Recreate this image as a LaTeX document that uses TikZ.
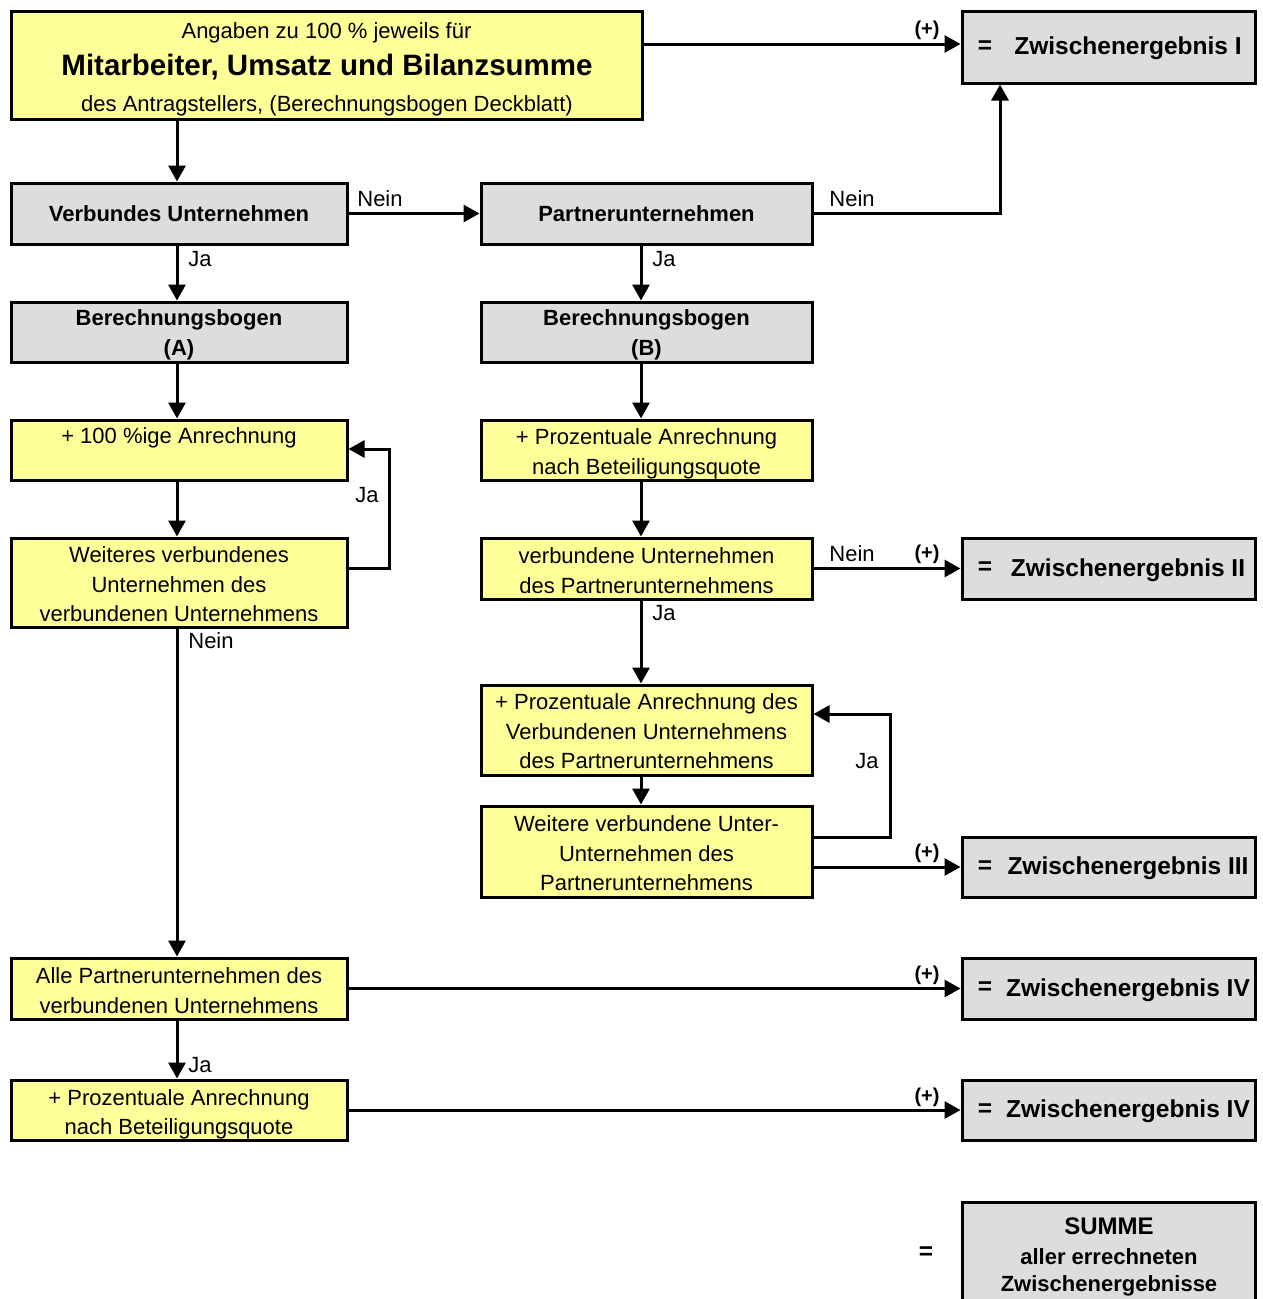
\documentclass[tikz,border=0pt]{standalone}
\usepackage{fontspec}
\setmainfont{Liberation Sans}
\usetikzlibrary{arrows.meta}
\definecolor{yel}{HTML}{FFFF99}
\definecolor{gry}{HTML}{DDDDDD}
\newcommand\fnorm{\fontsize{22}{29.5}\selectfont}
\newcommand\fbold{\fontsize{22}{29.5}\selectfont\bfseries}
\newcommand\fze{\fontsize{24.5}{29.5}\selectfont\bfseries}
\newcommand\sh[1]{\rule{0pt}{#1pt}}
\begin{document}
\begin{tikzpicture}[x=1pt,y=-1pt,
  ybox/.style={draw=black,line width=3pt,fill=yel,inner sep=0pt,align=center,font=\fnorm},
  gbox/.style={draw=black,line width=3pt,fill=gry,inner sep=0pt,align=center,font=\fbold},
  lw/.style={minimum width=336pt},
  rw/.style={minimum width=331pt},
  zw/.style={minimum width=293pt},
  arr/.style={line width=3pt,-{Triangle[length=16pt,width=17pt]}},
  lbl/.style={font=\fnorm,inner sep=0pt},
  plus/.style={font=\fontsize{20}{20}\selectfont\bfseries,inner sep=0pt},
  zet/.style={font=\fze,inner sep=0pt},
]
\useasboundingbox (0,0) rectangle (1262,1299);
\clip (0,0) rectangle (1262,1299);

% column coordinates
\coordinate (cL) at (177,0);
\coordinate (cR) at (641,0);

% top box
\node[ybox,minimum width=631pt,minimum height=108pt] (top) at (326.5,65) {};
\node[lbl,anchor=base] (top1) at (326.5,38) {Angaben zu 100 \% jeweils für};
\node[inner sep=0pt,anchor=base,font=\fontsize{29.5}{30}\selectfont\bfseries] (top2) at (327,75.5) {Mitarbeiter, Umsatz und Bilanzsumme};
\node[lbl,anchor=base] (top3) at (327,111) {des Antragstellers, (Berechnungsbogen Deckblatt)};

% left column
\node[gbox,lw,minimum height=61pt] (vu) at (179,213.5) {Verbundes Unternehmen};
\node[gbox,lw,minimum height=60pt] (ba) at (179,332) {\sh{22}Berechnungsbogen\\(A)};
\node[ybox,lw,minimum height=60pt] (a100) at (179,450) {+ 100 \%ige Anrechnung\\\mbox{}};
\node[ybox,lw,minimum height=89pt] (wv) at (179,582.5) {\sh{20}Weiteres verbundenes\\Unternehmen des\\verbundenen Unternehmens};
\node[ybox,lw,minimum height=61pt] (alle) at (179,988.5) {\sh{20}Alle Partnerunternehmen des\\verbundenen Unternehmens};
\node[ybox,lw,minimum height=60pt] (pn) at (179,1110) {\sh{25}+ Prozentuale Anrechnung\\nach Beteiligungsquote};

% right column
\node[gbox,rw,minimum height=61pt] (pu) at (646.5,213.5) {Partnerunternehmen};
\node[gbox,rw,minimum height=60pt] (bb) at (646.5,332) {\sh{22}Berechnungsbogen\\(B)};
\node[ybox,rw,minimum height=60pt] (pb) at (646.5,450) {\sh{24}+ Prozentuale Anrechnung\\nach Beteiligungsquote};
\node[ybox,rw,minimum height=61pt] (vp) at (646.5,568.5) {\sh{20}verbundene Unternehmen\\des Partnerunternehmens};
\node[ybox,rw,minimum height=90pt] (pd) at (646.5,730) {\sh{19}+ Prozentuale Anrechnung des\\Verbundenen Unternehmens\\des Partnerunternehmens};
\node[ybox,rw,minimum height=91pt] (wvu) at (646.5,851.5) {\sh{20}Weitere verbundene Unter-\\Unternehmen des\\Partnerunternehmens};

% result boxes
\node[gbox,zw,minimum height=72pt] (ze1) at (1108.5,47) {};
\node[zet] (ze1eq) at (985,47) {=};
\node[zet] (ze1t) at (1128,48.5) {Zwischenergebnis I};
\node[gbox,zw,minimum height=61pt] (ze2) at (1108.5,568.5) {};
\node[zet] (ze2eq) at (985,568.5) {=};
\node[zet] (ze2t) at (1128,570) {Zwischenergebnis II};
\node[gbox,zw,minimum height=60pt] (ze3) at (1108.5,867) {};
\node[zet] (ze3eq) at (985,867) {=};
\node[zet] (ze3t) at (1128,868.5) {Zwischenergebnis III};
\node[gbox,zw,minimum height=61pt] (ze4) at (1108.5,988.5) {};
\node[zet] (ze4eq) at (985,988.5) {=};
\node[zet] (ze4t) at (1128,990) {Zwischenergebnis IV};
\node[gbox,zw,minimum height=60pt] (ze5) at (1108.5,1110) {};
\node[zet] (ze5eq) at (985,1110) {=};
\node[zet] (ze5t) at (1128,1111.5) {Zwischenergebnis IV};

% sum box (bottom edge outside the picture)
\node[gbox,zw,minimum height=118pt] (summe) at (1108.5,1261) {};
\node[inner sep=0pt,align=center,font=\fbold] (summet) at (1109,1257)
  {{\fontsize{24}{29.5}\selectfont SUMME}\\aller errechneten\\[-2pt]Zwischenergebnisse};
\node[zet] (sumeq) at (926,1253) {=};

% connectors
\coordinate (h1) at (0,44);
\draw[arr] (top.east |- h1) -- (ze1.west |- h1);
\node[plus] (p1) at (927,30) {(+)};

\draw[arr] (top.south -| cL) -- (vu.north -| cL);
\draw[arr] (vu.east) -- (pu.west);
\node[lbl] (n1) at (380,199) {Nein};

\coordinate (k1) at (1000,213.5);
\draw[arr] (pu.east) -- (k1) -- (k1 |- ze1.south);
\node[lbl] (n2) at (852,199) {Nein};

\draw[arr] (vu.south -| cL) -- (ba.north -| cL);
\node[lbl] (j1) at (200,259) {Ja};
\draw[arr] (pu.south -| cR) -- (bb.north -| cR);
\node[lbl] (j2) at (664,259) {Ja};

\draw[arr] (ba.south -| cL) -- (a100.north -| cL);
\draw[arr] (bb.south -| cR) -- (pb.north -| cR);
\draw[arr] (a100.south -| cL) -- (wv.north -| cL);
\draw[arr] (pb.south -| cR) -- (vp.north -| cR);

\coordinate (l1a) at (389,568);
\coordinate (l1b) at (389,449);
\draw[arr] (wv.east |- l1a) -- (l1a) -- (l1b) -- (a100.east |- l1b);
\node[lbl] (j3) at (367,495) {Ja};

\draw[arr] (wv.south -| cL) -- (alle.north -| cL);
\node[lbl] (n3) at (211,641) {Nein};

\draw[arr] (vp.east) -- (ze2.west);
\node[lbl] (n4) at (852,554) {Nein};
\node[plus] (p2) at (927,554) {(+)};

\draw[arr] (vp.south -| cR) -- (pd.north -| cR);
\node[lbl] (j4) at (664,613) {Ja};
\draw[arr] (pd.south -| cR) -- (wvu.north -| cR);

\coordinate (l2a) at (890,837);
\coordinate (l2b) at (890,714);
\draw[arr] (wvu.east |- l2a) -- (l2a) -- (l2b) -- (pd.east |- l2b);
\node[lbl] (j5) at (867,761) {Ja};

\draw[arr] (wvu.east |- ze3.west) -- (ze3.west);
\node[plus] (p3) at (927,853) {(+)};

\draw[arr] (alle.east) -- (ze4.west);
\node[plus] (p4) at (927,975) {(+)};

\draw[arr] (alle.south -| cL) -- (pn.north -| cL);
\node[lbl] (j6) at (200,1065) {Ja};

\draw[arr] (pn.east) -- (ze5.west);
\node[plus] (p5) at (927,1097) {(+)};
\end{tikzpicture}
\end{document}
